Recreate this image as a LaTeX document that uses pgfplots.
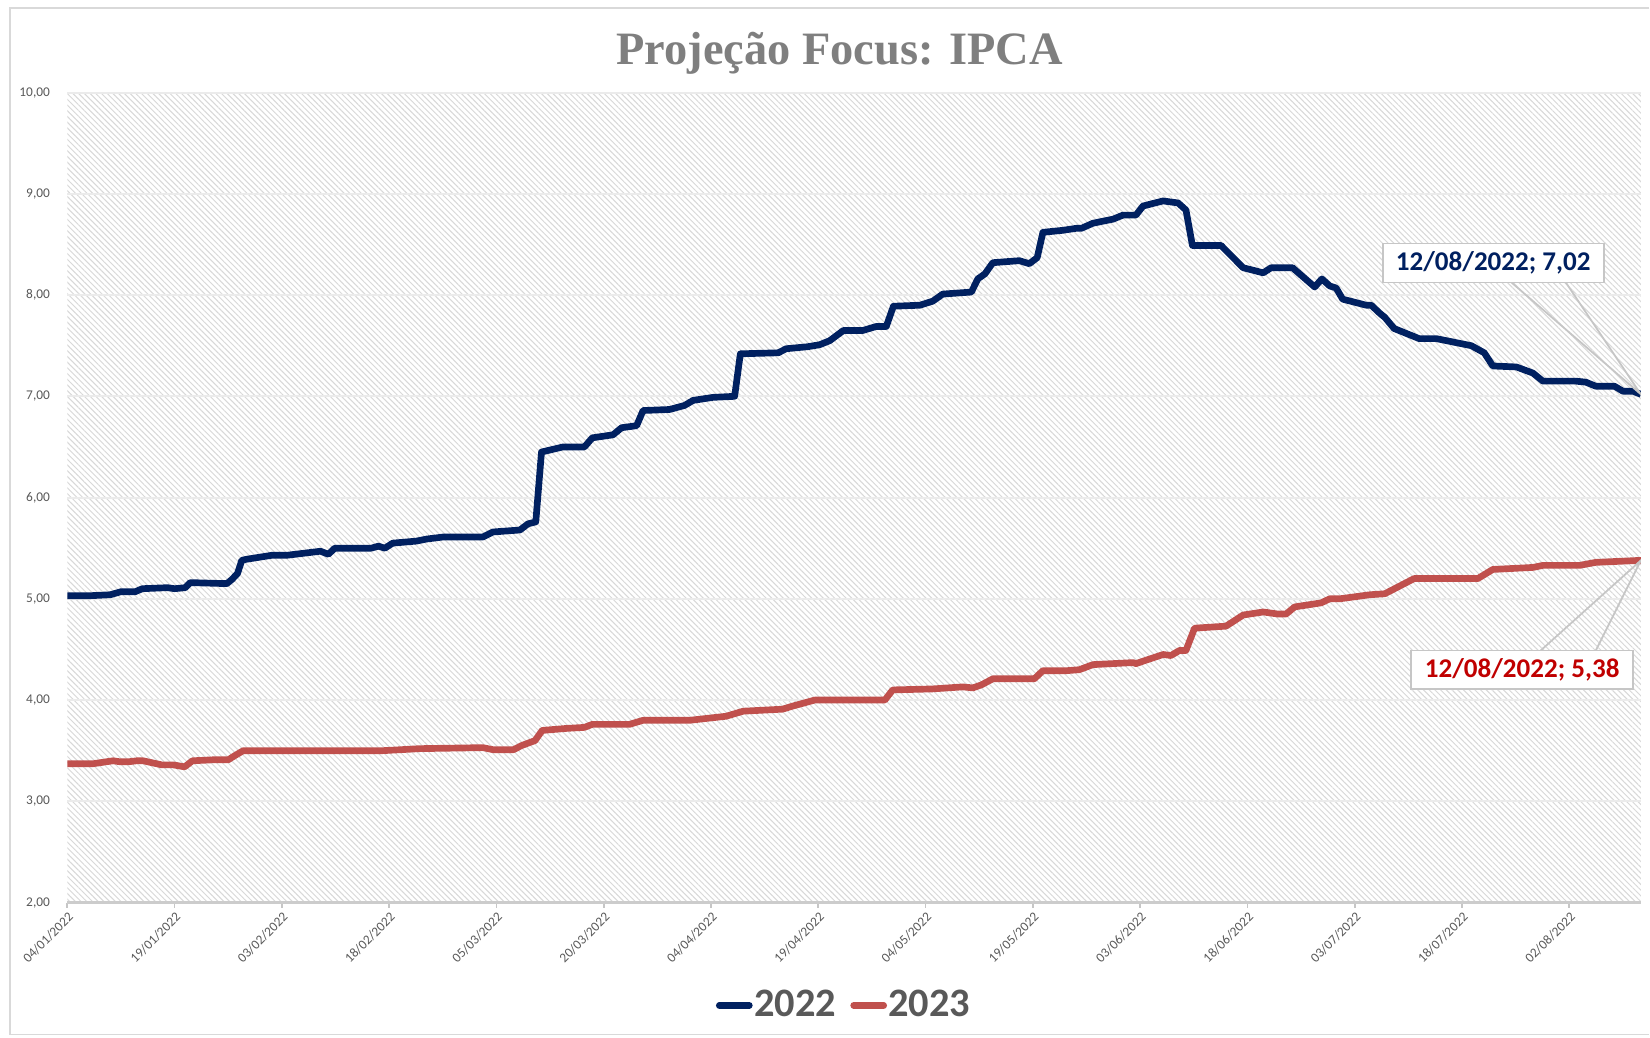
\documentclass[border=0pt]{standalone}
\usepackage{pgfplots}
\pgfplotsset{compat=1.18}
\usepackage{fontspec}
\setmainfont{Carlito}
\newfontfamily\titlefont{Liberation Serif}
\usetikzlibrary{patterns.meta}
\definecolor{navy}{HTML}{002060}
\definecolor{red23}{HTML}{C0504D}
\definecolor{lbl23}{HTML}{C00000}
\definecolor{txtgray}{HTML}{595959}
\definecolor{titlegray}{HTML}{7F7F7F}
\definecolor{hatch}{HTML}{D8D8D8}

\pgfplotstableread{
d v
0 5.03
3 5.03
6 5.04
7.5 5.07
9.5 5.07
10.5 5.10
14 5.11
15 5.10
16.5 5.11
17.2 5.16
22.3 5.15
23 5.19
23.8 5.25
24.4 5.38
25 5.39
28.6 5.43
30.7 5.43
35.4 5.47
36.5 5.44
37.4 5.50
42.5 5.50
43.5 5.52
44.4 5.50
45.5 5.55
48.8 5.57
50.2 5.59
52.5 5.61
58.1 5.61
59.5 5.66
63.3 5.68
64.4 5.74
65.5 5.76
66.3 6.45
69.3 6.50
72.3 6.50
73.4 6.59
76.3 6.62
77.5 6.69
79.6 6.71
80.5 6.86
84.2 6.87
86.3 6.91
87.5 6.96
90.3 6.99
93.3 7.00
94.1 7.42
99.4 7.43
100.5 7.47
103.5 7.49
105.2 7.51
106.6 7.55
108.5 7.65
111.2 7.65
113.1 7.69
114.5 7.69
115.5 7.89
119.2 7.90
121 7.94
122.4 8.01
126.4 8.03
127.3 8.16
128.3 8.21
129.4 8.32
133.1 8.34
134.5 8.31
135.6 8.37
136.4 8.62
139.2 8.64
141.1 8.66
141.8 8.66
143.4 8.71
146.2 8.75
147.6 8.79
149.4 8.79
150.4 8.88
153.2 8.93
155.3 8.91
156.4 8.84
157.3 8.49
161.3 8.49
164.4 8.27
167.2 8.22
168.3 8.27
171.3 8.27
174.4 8.08
175.4 8.16
176.5 8.09
177.4 8.07
178.3 7.96
181.6 7.90
182.3 7.90
183.5 7.82
184.2 7.78
185.5 7.67
189 7.57
191.4 7.57
196.3 7.50
198.1 7.43
199.3 7.30
202.6 7.29
204.9 7.23
206.3 7.15
210.9 7.15
212.3 7.14
213.7 7.10
216.3 7.10
217.5 7.05
218.9 7.05
220 7.02
}\dataA

\pgfplotstableread{
d v
0 3.37
3.5 3.37
6.4 3.40
7.4 3.39
8.5 3.39
9.7 3.40
10.6 3.40
13.2 3.36
14.8 3.36
16.4 3.34
17.5 3.40
20.4 3.41
22.5 3.41
23.4 3.45
24.6 3.50
44.1 3.50
49.3 3.52
58.1 3.53
59.5 3.51
62.4 3.51
63.5 3.55
65.4 3.60
66.4 3.70
69.8 3.72
72.3 3.73
73.4 3.76
78.6 3.76
80.5 3.80
87 3.80
92.1 3.84
94.5 3.89
100 3.91
101.4 3.94
104.5 4.00
114.3 4.00
115.4 4.10
121 4.11
125.2 4.13
126.6 4.12
127.8 4.15
129.4 4.21
135.2 4.21
136.4 4.29
139.7 4.29
141.5 4.30
143.4 4.35
149 4.37
149.4 4.36
153.2 4.45
154.3 4.44
155.5 4.49
156.4 4.49
157.6 4.71
162 4.73
164.4 4.84
167.2 4.87
169.2 4.85
170.4 4.85
171.6 4.92
175.3 4.96
176.5 5.00
177.9 5.00
182.1 5.04
184.2 5.05
188.3 5.20
197.2 5.20
199.3 5.29
204.9 5.31
206.3 5.33
211.4 5.33
213.7 5.36
220 5.38
}\dataB

\begin{document}
\begin{tikzpicture}
\path[fill=white] (0,0) rectangle (165mm,-103.8mm);
\draw[gray!30, line width=0.4pt] (165mm,-0.8mm) -- (1.0mm,-0.8mm) -- (1.0mm,-103.5mm) -- (165mm,-103.5mm);
\node[anchor=base, font=\titlefont\fontsize{13.2}{16}\selectfont\bfseries, text=titlegray, inner sep=0pt] at (84mm,-6.5mm) {Projeção Focus: IPCA};
\begin{axis}[
  at={(6.73mm,-90.29mm)}, anchor=south west,
  width=157.43mm, height=81.03mm, scale only axis,
  xmin=0, xmax=220, ymin=2, ymax=10,
  axis background/.style={pattern={Lines[angle=-45,distance=1.15pt,line width=0.28pt]}, pattern color=hatch},
  axis x line*=bottom, axis y line*=left,
  x axis line style={gray!40, line width=0.6pt, -},
  y axis line style={draw=none},
  ytick={2,3,...,10},
  ymajorgrids, grid style={gray!16, line width=0.6pt},
  ytick style={draw=none},
  xtick={0,15,...,210},
  xticklabels={04/01/2022,19/01/2022,03/02/2022,18/02/2022,05/03/2022,20/03/2022,04/04/2022,19/04/2022,04/05/2022,19/05/2022,03/06/2022,18/06/2022,03/07/2022,18/07/2022,02/08/2022},
  xtick style={gray!45, line width=0.5pt},
  tick align=outside, major tick length=0.5mm,
  x tick label style={rotate=45, anchor=north east, font=\fontsize{3.8}{4}\selectfont, text=txtgray, inner sep=0.6pt},
  y tick label style={font=\fontsize{3.8}{4}\selectfont, text=txtgray},
  yticklabel style={/pgf/number format/.cd, fixed, fixed zerofill, precision=2, use comma},
  /pgf/number format/assume math mode=true,
  legend style={at={(0.4935,-0.127)}, anchor=center, draw=none, fill=none, legend columns=2,
    font=\fontsize{11.5}{13}\selectfont\bfseries, text=txtgray,
    nodes={inner xsep=0.4pt},
    /tikz/every even column/.append style={column sep=1.3mm}},
  legend image code/.code={\draw[#1, line cap=round] (0mm,0mm) -- (3mm,0mm);},
]
\addplot[navy, line width=1.9pt, line join=round] table[x=d, y=v] {\dataA};
\addlegendentry{2022}
\addplot[red23, line width=1.9pt, line join=round] table[x=d, y=v] {\dataB};
\addlegendentry{2023}
\draw[gray!45, line width=0.5pt] (axis cs:201.9,8.125) -- (axis cs:220,7.02) -- (axis cs:209.5,8.125);
\node[draw=gray!45, line width=0.5pt, fill=white, text=navy, font=\fontsize{7.7}{9}\selectfont\bfseries, minimum width=22.1mm, minimum height=3.9mm, inner sep=0pt] at (axis cs:199.35,8.3175) {12/08/2022; 7,02};
\draw[gray!45, line width=0.5pt] (axis cs:206.0,4.49) -- (axis cs:220,5.38) -- (axis cs:213.7,4.49);
\node[draw=gray!45, line width=0.5pt, fill=white, text=lbl23, font=\fontsize{7.7}{9}\selectfont\bfseries, minimum width=22.2mm, minimum height=3.85mm, inner sep=0pt] at (axis cs:203.4,4.30) {12/08/2022; 5,38};
\end{axis}
\end{tikzpicture}
\end{document}
